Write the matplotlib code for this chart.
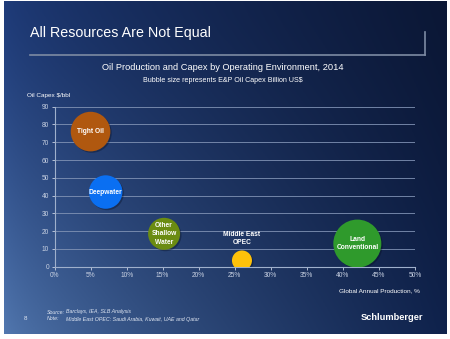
import numpy as np
import matplotlib
matplotlib.use("Agg")
import matplotlib.pyplot as plt
from matplotlib import transforms

plt.rcParams['font.family'] = ['Liberation Sans', 'DejaVu Sans']

# Dados do gráfico de bolhas
ambientes = ["Tight Oil", "Deepwater", "Other\nShallow\nWater", "Middle East\nOPEC", "Land\nConventional"]
producao = [5.0, 7.1, 15.2, 26.0, 42.0]        # % da produção global
capex_bbl = [76, 42, 18.5, 3.5, 13]            # US$/bbl
capex_total = [98, 70, 64, 25, 144]            # bilhões de US$ (tamanho da bolha)
cores = ["#b0580f", "#0a6ff2", "#6b8c12", "#ffc20a", "#2f9a2c"]

x_ticks = [0, 5, 10, 15, 20, 25, 30, 35, 40, 45, 50]
y_ticks = [0, 10, 20, 30, 40, 50, 60, 70, 80, 90]

W, H = 450, 339
fig = plt.figure(figsize=(W / 100, H / 100), dpi=100)
fig.patch.set_facecolor("white")

# Fundo do slide com degradê azul
bg = fig.add_axes([4 / W, 1 - 334 / H, 443 / W, 333 / H])
bg.set_axis_off()
u = np.linspace(0, 1, 200)[None, :]
v = np.linspace(0, 1, 150)[:, None]
tl = np.array([0x1f, 0x3c, 0x7a]) / 255
bl = np.array([0x52, 0x78, 0xb0]) / 255
tr = np.array([0x0b, 0x17, 0x35]) / 255
br = np.array([0x0f, 0x22, 0x4c]) / 255
uu = (u ** 0.7)[..., None]
vv = (v ** 1.3)[..., None]
img = (1 - uu) * (1 - vv) * tl + (1 - uu) * vv * bl + uu * (1 - vv) * tr + uu * vv * br
bg.imshow(img, aspect="auto", extent=[0, 1, 0, 1], origin="upper")
bg.set_xlim(0, 1)
bg.set_ylim(0, 1)

# Título do slide e moldura
fig.text(30 / W, 1 - 33 / H, "All Resources Are Not Equal", color="white",
         fontsize=10.3, va="center", ha="left")
fig.add_artist(plt.Line2D([30 / W, 425 / W], [1 - 55 / H, 1 - 55 / H],
                          color="#7d8ba3", lw=1.2))
fig.add_artist(plt.Line2D([425 / W, 425 / W], [1 - 55 / H, 1 - 32 / H],
                          color="#7d8ba3", lw=1.2))

fig.text(223 / W, 1 - 67 / H, "Oil Production and Capex by Operating Environment, 2014",
         color="white", fontsize=6.7, ha="center", va="center")
fig.text(223 / W, 1 - 80 / H, "Bubble size represents E&P Oil Capex Billion US$",
         color="white", fontsize=5.1, ha="center", va="center")
fig.text(27 / W, 1 - 95 / H, "Oil Capex $/bbl", color="white", fontsize=4.6,
         ha="left", va="center")

# Eixos principais
ax = fig.add_axes([54.5 / W, 1 - 266.7 / H, 360.5 / W, 160 / H])
ax.set_facecolor("none")
ax.set_xlim(0, 50)
ax.set_ylim(0, 90)
ax.set_xticks(x_ticks)
ax.set_xticklabels([f"{t}%" for t in x_ticks])
ax.set_yticks(y_ticks)
ax.tick_params(colors="#c9d2e3", labelsize=4.8, length=2, width=0.6, pad=2)
for lado in ["top", "right"]:
    ax.spines[lado].set_visible(False)
for lado in ["left", "bottom"]:
    ax.spines[lado].set_color("#9fb0cc")
    ax.spines[lado].set_linewidth(0.8)
ax.yaxis.grid(True, color="#8193b5", lw=0.6)
ax.set_axisbelow(True)

escala = 8.3
tamanhos = [c * escala for c in capex_total]
# sombra levemente deslocada
sombra = transforms.offset_copy(ax.transData, fig=fig, x=1.0, y=-1.0, units="points")
ax.scatter(producao, capex_bbl, s=tamanhos, c="#050c1f", alpha=0.35,
           edgecolors="none", zorder=2.5, transform=sombra)
ax.scatter(producao, capex_bbl, s=tamanhos, c=cores, edgecolors="none", zorder=3)

for nome, px, py in zip(ambientes, producao, capex_bbl):
    if nome.startswith("Middle"):
        ax.text(px, py + 12.5, nome, color="white", fontsize=4.8, fontweight="bold",
                ha="center", va="center", zorder=4, linespacing=1.2)
    else:
        ax.text(px, py, nome, color="white", fontsize=4.8, fontweight="bold",
                ha="center", va="center", zorder=4, linespacing=1.3)

fig.text(420 / W, 1 - 291 / H, "Global Annual Production, %", color="white",
         fontsize=4.6, ha="right", va="center")

# Rodapé
fig.text(26 / W, 1 - 318 / H, "8", color="#dfe6f2", fontsize=4.5, ha="center", va="center")
fig.text(47 / W, 1 - 312 / H, "Source:", color="#dfe6f2", fontsize=3.8, style="italic", va="center")
fig.text(47 / W, 1 - 319 / H, "Note:", color="#dfe6f2", fontsize=3.8, style="italic", va="center")
fig.text(66 / W, 1 - 312 / H, "Barclays, IEA, SLB Analysis", color="#dfe6f2", fontsize=3.8,
         style="italic", va="center")
fig.text(66 / W, 1 - 319 / H, "Middle East OPEC: Saudi Arabia, Kuwait, UAE and Qatar",
         color="#dfe6f2", fontsize=3.8, style="italic", va="center")
fig.text(423 / W, 1 - 317 / H, "Schlumberger", color="white", fontsize=6.7,
         fontweight="bold", ha="right", va="center",
         family=["Liberation Sans Narrow", "Liberation Sans", "DejaVu Sans"])

fig.savefig("out.png", dpi=100)
